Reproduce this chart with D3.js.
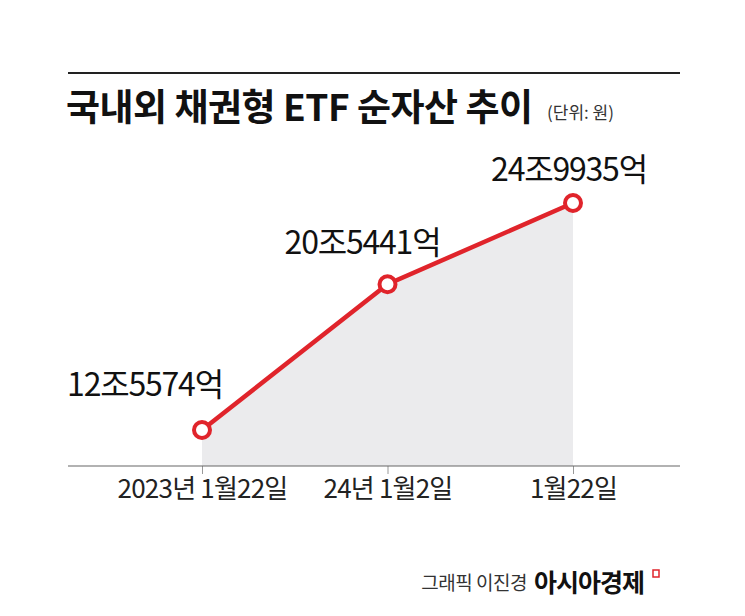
<!DOCTYPE html>
<html><head><meta charset="utf-8">
<script src="https://cdn.jsdelivr.net/npm/d3@7"></script>
<style>body{margin:0;background:#fff}svg{display:block}text{font-family:"Noto Sans CJK KR","Noto Sans",sans-serif}</style>
</head><body><svg id="c" width="745" height="616"></svg>
<script>
// 순자산 (조원)
const dates = ['2023년 1월22일', '24년 1월2일', '1월22일'];
const values = [12.5574, 20.5441, 24.9935];
const labels = ['12조5574억', '20조5441억', '24조9935억'];

const svg = d3.select('#c');
const x = d3.scalePoint().domain(dates).range([202, 573]);
const y = d3.scaleLinear().domain([10.585, 32.117]).range([466, 73]);
const data = dates.map((d, i) => ({ d, v: values[i], l: labels[i] }));

svg.append('line').attr('x1', 68).attr('x2', 680).attr('y1', 73).attr('y2', 73)
	.attr('stroke', '#222').attr('stroke-width', 2);
svg.append('text').attr('x', 66).attr('y', 121).attr('font-size', 37).attr('font-weight', 700)
	.attr('fill', '#111').attr('letter-spacing', -0.5).text('국내외 채권형 ETF 순자산 추이');
svg.append('text').attr('x', 547).attr('y', 119).attr('font-size', 17).attr('fill', '#333')
	.text('(단위: 원)');

// area
svg.append('path').datum(data)
	.attr('d', d3.area().x(d => x(d.d)).y0(y(y.domain()[0])).y1(d => y(d.v)))
	.attr('fill', '#ebebed');

// axis
const ax = svg.append('g').attr('transform', `translate(0,${y(y.domain()[0])})`)
	.call(d3.axisBottom(x).tickSize(8).tickPadding(6));
ax.select('.domain').remove();
ax.selectAll('.tick line').attr('stroke', '#999');
ax.selectAll('.tick text').attr('font-size', 26).attr('fill', '#222')
	.attr('font-family', '"Noto Sans CJK KR",sans-serif').attr('letter-spacing', -0.8);
svg.append('line').attr('x1', 68).attr('x2', 680).attr('y1', y(y.domain()[0])).attr('y2', y(y.domain()[0]))
	.attr('stroke', '#666').attr('stroke-width', 1.2);

svg.append('path').datum(data)
	.attr('d', d3.line().x(d => x(d.d)).y(d => y(d.v)))
	.attr('fill', 'none').attr('stroke', '#e0242b').attr('stroke-width', 4.5);
svg.selectAll('circle.p').data(data).join('circle')
	.attr('cx', d => x(d.d)).attr('cy', d => y(d.v)).attr('r', 8)
	.attr('fill', '#fff').attr('stroke', '#e0242b').attr('stroke-width', 4);

const off = [[-57, -34], [-25, -30], [-4, -22]];
svg.selectAll('text.lab').data(data).join('text')
	.attr('x', (d, i) => x(d.d) + off[i][0]).attr('y', (d, i) => y(d.v) + off[i][1])
	.attr('text-anchor', 'middle').attr('font-size', 32).attr('fill', '#111')
	.attr('letter-spacing', -1.2).text(d => d.l);

svg.append('text').attr('x', 527).attr('y', 590).attr('text-anchor', 'end')
	.attr('font-size', 19).attr('fill', '#333').attr('letter-spacing', -0.5).text('그래픽 이진경');
svg.append('text').attr('x', 534).attr('y', 592).attr('font-size', 25).attr('font-weight', 700)
	.attr('fill', '#111').attr('letter-spacing', -1).text('아시아경제');
svg.append('rect').attr('x', 653).attr('y', 570).attr('width', 6).attr('height', 7)
	.attr('fill', 'none').attr('stroke', '#e0242b').attr('stroke-width', 1.5);
</script></body></html>
